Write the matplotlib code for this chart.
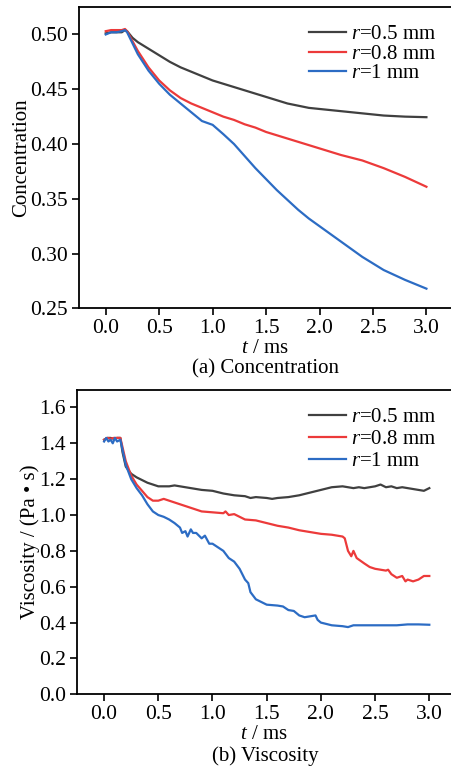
import matplotlib
matplotlib.use("Agg")
import matplotlib.pyplot as plt
import numpy as np

plt.rcParams['font.family'] = ['Liberation Serif', 'DejaVu Serif']
plt.rcParams['mathtext.fontset'] = 'custom'
plt.rcParams['mathtext.rm'] = 'Liberation Serif'
plt.rcParams['mathtext.it'] = 'Liberation Serif:italic'
plt.rcParams['font.size'] = 15

# (a) concentration
t_a = [0, 0.05, 0.1, 0.15, 0.18, 0.2, 0.25, 0.3, 0.4, 0.5, 0.6, 0.7, 0.8, 0.9, 1.0,
       1.1, 1.2, 1.3, 1.4, 1.5, 1.6, 1.7, 1.8, 1.9, 2.0, 2.2, 2.4, 2.6, 2.8, 3.0]
conc_05 = [0.501, 0.502, 0.502, 0.502, 0.504, 0.503, 0.497, 0.493, 0.487, 0.481, 0.475,
           0.470, 0.466, 0.462, 0.458, 0.455, 0.452, 0.449, 0.446, 0.443, 0.440, 0.437,
           0.435, 0.433, 0.432, 0.430, 0.428, 0.426, 0.425, 0.4245]
conc_08 = [0.503, 0.504, 0.504, 0.504, 0.505, 0.503, 0.494, 0.485, 0.470, 0.458, 0.449,
           0.442, 0.437, 0.433, 0.429, 0.425, 0.422, 0.418, 0.415, 0.411, 0.408, 0.405,
           0.402, 0.399, 0.396, 0.390, 0.385, 0.378, 0.370, 0.361]
conc_10 = [0.500, 0.502, 0.502, 0.503, 0.504, 0.502, 0.492, 0.482, 0.467, 0.455, 0.445,
           0.437, 0.429, 0.421, 0.4175, 0.409, 0.400, 0.389, 0.378, 0.368, 0.358, 0.349,
           0.340, 0.332, 0.325, 0.311, 0.297, 0.285, 0.276, 0.268]

# (b) viscosity
t_b05 = [0, 0.03, 0.06, 0.09, 0.12, 0.15, 0.17, 0.2, 0.25, 0.3, 0.4, 0.5, 0.6, 0.65, 0.7,
         0.8, 0.9, 1.0, 1.1, 1.2, 1.3, 1.35, 1.4, 1.5, 1.55, 1.6, 1.7, 1.8, 1.9, 2.0,
         2.1, 2.2, 2.25, 2.3, 2.35, 2.4, 2.45, 2.5, 2.55, 2.6, 2.65, 2.7, 2.75, 2.8,
         2.85, 2.9, 2.95, 3.0]
visc_05 = [1.42, 1.43, 1.43, 1.425, 1.43, 1.43, 1.35, 1.27, 1.23, 1.21, 1.18, 1.16, 1.16,
           1.165, 1.16, 1.15, 1.14, 1.135, 1.12, 1.11, 1.105, 1.095, 1.10, 1.095, 1.09,
           1.095, 1.10, 1.11, 1.125, 1.14, 1.155, 1.16, 1.155, 1.15, 1.155, 1.15, 1.155,
           1.16, 1.17, 1.155, 1.16, 1.15, 1.155, 1.15, 1.145, 1.14, 1.135, 1.15]
t_b08 = [0, 0.03, 0.06, 0.09, 0.12, 0.15, 0.2, 0.25, 0.3, 0.4, 0.45, 0.5, 0.55, 0.6, 0.7,
         0.8, 0.9, 1.0, 1.1, 1.12, 1.15, 1.2, 1.25, 1.3, 1.4, 1.5, 1.6, 1.7, 1.8, 1.9,
         2.0, 2.1, 2.2, 2.22, 2.25, 2.28, 2.3, 2.33, 2.4, 2.45, 2.5, 2.6, 2.62, 2.65,
         2.7, 2.75, 2.78, 2.8, 2.85, 2.9, 2.95, 3.0]
visc_08 = [1.42, 1.43, 1.425, 1.43, 1.43, 1.43, 1.30, 1.22, 1.17, 1.10, 1.08, 1.08, 1.09,
           1.08, 1.06, 1.04, 1.02, 1.015, 1.01, 1.02, 1.00, 1.005, 0.99, 0.975, 0.97,
           0.955, 0.94, 0.93, 0.915, 0.905, 0.895, 0.89, 0.88, 0.87, 0.80, 0.77, 0.80,
           0.76, 0.73, 0.71, 0.70, 0.69, 0.695, 0.67, 0.65, 0.66, 0.63, 0.64, 0.63, 0.64,
           0.66, 0.66]
t_b10 = [0, 0.02, 0.04, 0.06, 0.08, 0.1, 0.12, 0.15, 0.2, 0.25, 0.3, 0.35, 0.4, 0.45, 0.5,
         0.55, 0.6, 0.65, 0.7, 0.72, 0.75, 0.77, 0.8, 0.82, 0.85, 0.9, 0.93, 0.97, 1.0,
         1.05, 1.1, 1.15, 1.2, 1.25, 1.3, 1.33, 1.35, 1.4, 1.45, 1.5, 1.6, 1.65, 1.7,
         1.75, 1.8, 1.85, 1.9, 1.95, 1.97, 2.0, 2.1, 2.2, 2.25, 2.3, 2.4, 2.5, 2.6, 2.7,
         2.8, 2.9, 3.0]
visc_10 = [1.41, 1.43, 1.41, 1.42, 1.40, 1.43, 1.41, 1.42, 1.28, 1.20, 1.15, 1.11, 1.06,
           1.02, 1.00, 0.99, 0.975, 0.955, 0.93, 0.90, 0.91, 0.88, 0.92, 0.90, 0.90,
           0.87, 0.885, 0.84, 0.84, 0.82, 0.80, 0.76, 0.74, 0.70, 0.64, 0.62, 0.57, 0.53,
           0.515, 0.50, 0.495, 0.49, 0.47, 0.465, 0.44, 0.43, 0.435, 0.44, 0.415, 0.40,
           0.385, 0.38, 0.375, 0.385, 0.385, 0.385, 0.385, 0.385, 0.39, 0.39, 0.388]

x_ticks = [0.0, 0.5, 1.0, 1.5, 2.0, 2.5, 3.0]
labels = ['$r$=0.5 mm', '$r$=0.8 mm', '$r$=1 mm']
colors = ['#404040', '#ec3a3a', '#2c6cc4']

fig = plt.figure(figsize=(4.51, 7.69), dpi=100)


def style_axes(ax):
    ax.spines['right'].set_visible(False)
    for s in ['left', 'bottom', 'top']:
        ax.spines[s].set_linewidth(1.3)
    ax.tick_params(direction='out', length=5, width=1.2, labelsize=15.5, pad=3)
    ax.set_xticks(x_ticks)
    ax.set_xticklabels(['%.1f' % v for v in x_ticks])


ax1 = fig.add_axes([0.1752, 0.599, 0.8248, 0.3918])
ax1.plot(t_a, conc_05, color=colors[0], lw=1.6, label=labels[0])
ax1.plot(t_a, conc_08, color=colors[1], lw=1.6, label=labels[1])
ax1.plot(t_a, conc_10, color=colors[2], lw=1.6, label=labels[2])
ax1.set_xlim(-0.25, 3.23)
ax1.set_ylim(0.25, 0.525)
style_axes(ax1)
y1 = [0.25, 0.30, 0.35, 0.40, 0.45, 0.50]
ax1.set_yticks(y1)
ax1.set_yticklabels(['%.2f' % v for v in y1])
ax1.set_ylabel('Concentration', fontsize=15)
ax1.yaxis.set_label_coords(-0.13, 0.5)
ax1.set_xlabel('$t$ / ms', fontsize=15, labelpad=0.5)
ax1.legend(loc='upper right', bbox_to_anchor=(1.0, 0.99), frameon=False,
           handlelength=1.75, handletextpad=0.25, labelspacing=0.0, fontsize=15,
           borderaxespad=0.3)
fig.text(0.588, 1 - 369 / 769, '(a) Concentration', ha='center', va='center', fontsize=15)

ax2 = fig.add_axes([0.1707, 0.0971, 0.8293, 0.3957])
ax2.plot(t_b05, visc_05, color=colors[0], lw=1.6, label=labels[0])
ax2.plot(t_b08, visc_08, color=colors[1], lw=1.6, label=labels[1])
ax2.plot(t_b10, visc_10, color=colors[2], lw=1.6, label=labels[2])
ax2.set_xlim(-0.25, 3.2)
ax2.set_ylim(0.0, 1.697)
style_axes(ax2)
y2 = [0.0, 0.2, 0.4, 0.6, 0.8, 1.0, 1.2, 1.4, 1.6]
ax2.set_yticks(y2)
ax2.set_yticklabels(['%.1f' % v for v in y2])
ax2.set_ylabel('Viscosity / (Pa • s)', fontsize=15)
ax2.yaxis.set_label_coords(-0.10, 0.5)
ax2.set_xlabel('$t$ / ms', fontsize=15, labelpad=0.5)
ax2.legend(loc='upper right', bbox_to_anchor=(1.0, 0.99), frameon=False,
           handlelength=1.75, handletextpad=0.25, labelspacing=0.12, fontsize=15,
           borderaxespad=0.3)
fig.text(0.588, 1 - 756 / 769, '(b) Viscosity', ha='center', va='center', fontsize=15)

fig.savefig('out.png', dpi=100)
